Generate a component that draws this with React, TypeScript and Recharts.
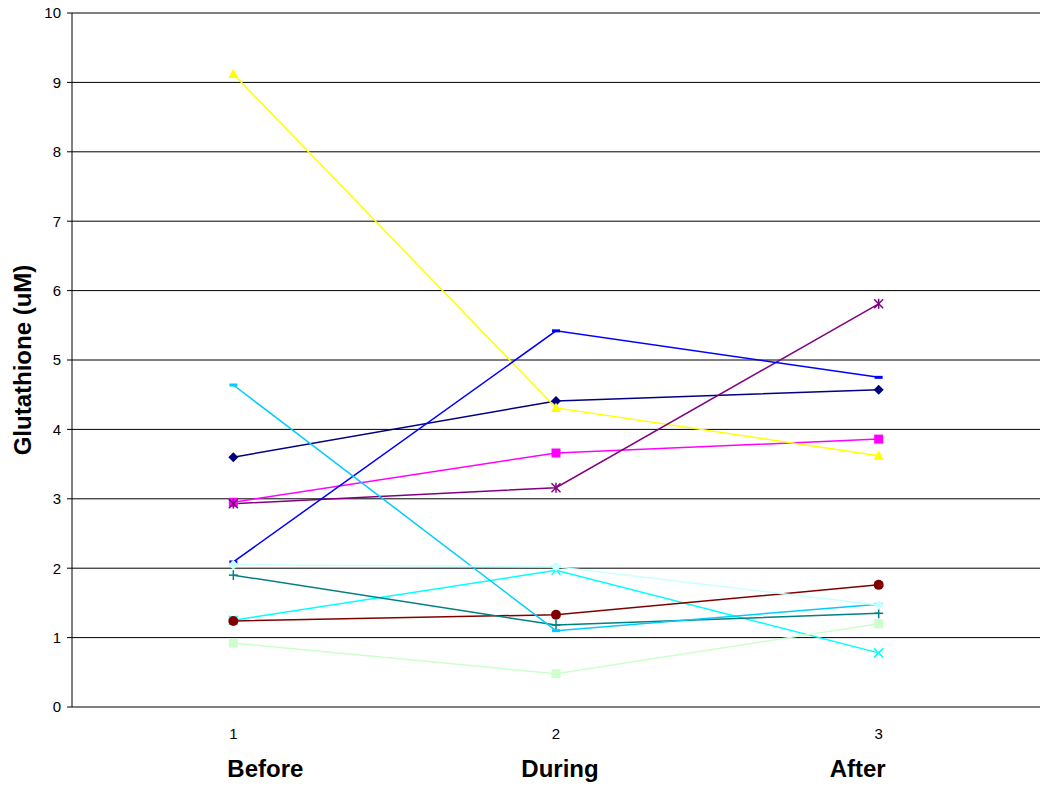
import React from "react";
import { LineChart, Line, XAxis, YAxis, CartesianGrid } from "recharts";

const phases = [1, 2, 3];
const phaseNames = ["Before", "During", "After"];
const yTicks = [0, 1, 2, 3, 4, 5, 6, 7, 8, 9, 10];
const bandEdges = [0.5, 1.5, 2.5, 3.5];

const s1 = [3.6, 4.41, 4.57];
const s2 = [2.95, 3.66, 3.86];
const s3 = [9.12, 4.31, 3.62];
const s4 = [1.25, 1.97, 0.78];
const s5 = [2.93, 3.16, 5.81];
const s6 = [1.24, 1.33, 1.76];
const s7 = [1.9, 1.18, 1.35];
const s8 = [2.09, 5.42, 4.75];
const s9 = [4.64, 1.1, 1.48];
const s10 = [2.05, 2.02, 1.47];
const s11 = [0.92, 0.48, 1.2];

const seriesList = [
  { key: "s1", values: s1, color: "#000080", marker: "diamond" },
  { key: "s2", values: s2, color: "#FF00FF", marker: "square" },
  { key: "s3", values: s3, color: "#FFFF00", marker: "triangle" },
  { key: "s4", values: s4, color: "#00FFFF", marker: "x" },
  { key: "s5", values: s5, color: "#800080", marker: "star" },
  { key: "s6", values: s6, color: "#800000", marker: "circle" },
  { key: "s7", values: s7, color: "#008080", marker: "plus" },
  { key: "s8", values: s8, color: "#0000FF", marker: "dash" },
  { key: "s9", values: s9, color: "#00CCFF", marker: "dash" },
  { key: "s10", values: s10, color: "#CCFFFF", marker: "diamond" },
  { key: "s11", values: s11, color: "#CCFFCC", marker: "square" },
];

const data = phases.map((p, i) => {
  const row: any = { phase: p };
  seriesList.forEach((s) => (row[s.key] = s.values[i]));
  return row;
});

const FONT = "'Liberation Sans', Arial, sans-serif";
// the phase names sit a little off the category centres in the original
const nameShift = [32, 4, -21];

function makeDot(marker: string, color: string) {
  return (props: any) => {
    const { cx, cy, index } = props;
    const k = `d-${marker}-${color}-${index}`;
    if (cx == null || cy == null) return <g key={k} />;
    switch (marker) {
      case "diamond":
        return (
          <polygon key={k} points={`${cx},${cy - 5} ${cx + 5},${cy} ${cx},${cy + 5} ${cx - 5},${cy}`} fill={color} />
        );
      case "square":
        return <rect key={k} x={cx - 4.5} y={cy - 4.5} width={9} height={9} fill={color} />;
      case "triangle":
        return <polygon key={k} points={`${cx},${cy - 5.5} ${cx + 5},${cy + 4} ${cx - 5},${cy + 4}`} fill={color} />;
      case "x":
        return (
          <g key={k} stroke={color} strokeWidth={1.5}>
            <line x1={cx - 4.5} y1={cy - 4.5} x2={cx + 4.5} y2={cy + 4.5} />
            <line x1={cx - 4.5} y1={cy + 4.5} x2={cx + 4.5} y2={cy - 4.5} />
          </g>
        );
      case "star":
        return (
          <g key={k} stroke={color} strokeWidth={1.5}>
            <line x1={cx - 4.5} y1={cy - 4.5} x2={cx + 4.5} y2={cy + 4.5} />
            <line x1={cx - 4.5} y1={cy + 4.5} x2={cx + 4.5} y2={cy - 4.5} />
            <line x1={cx} y1={cy - 5} x2={cx} y2={cy + 5} />
          </g>
        );
      case "circle":
        return <circle key={k} cx={cx} cy={cy} r={5} fill={color} />;
      case "plus":
        return (
          <g key={k} stroke={color} strokeWidth={1.5}>
            <line x1={cx - 4.5} y1={cy} x2={cx + 4.5} y2={cy} />
            <line x1={cx} y1={cy - 5} x2={cx} y2={cy + 5} />
          </g>
        );
      case "dash":
      default:
        return <rect key={k} x={cx - 4} y={cy - 1.5} width={8} height={3} fill={color} />;
    }
  };
}

function PhaseTick(props: any) {
  const { x, y, payload, index } = props;
  return (
    <g>
      <text x={x} y={y + 24} textAnchor="middle" fontFamily={FONT} fontSize={15} fill="#000">
        {payload.value}
      </text>
      <text
        x={x + nameShift[index]}
        y={y + 62}
        textAnchor="middle"
        fontFamily={FONT}
        fontSize={24}
        fontWeight="bold"
        fill="#000"
      >
        {phaseNames[index]}
      </text>
    </g>
  );
}

export default function App() {
  return (
    <div style={{ position: "absolute", left: 0, top: 0, background: "#fff" }}>
      <LineChart width={1045} height={790} data={data} margin={{ top: 13, right: 5, bottom: 0, left: 0 }}>
        <CartesianGrid vertical={false} stroke="#000" strokeWidth={1} yAxisId="left" xAxisId="edges" />
        <XAxis
          xAxisId="edges"
          dataKey="phase"
          type="number"
          domain={[0.5, 3.5]}
          ticks={bandEdges}
          tick={false}
          tickSize={5}
          axisLine={{ stroke: "#000" }}
          tickLine={{ stroke: "#000" }}
          height={0}
        />
        <XAxis
          xAxisId="main"
          dataKey="phase"
          type="number"
          domain={[0.5, 3.5]}
          ticks={phases}
          tickLine={false}
          axisLine={false}
          tick={<PhaseTick />}
          height={83}
          interval={0}
        />
        <YAxis
          yAxisId="left"
          domain={[0, 10]}
          ticks={yTicks}
          width={72}
          tickSize={5}
          tickMargin={6}
          axisLine={{ stroke: "#000" }}
          tickLine={{ stroke: "#000" }}
          tick={{ fontFamily: FONT, fontSize: 15, fill: "#000" }}
          label={{
            value: "Glutathione (uM)",
            angle: -90,
            position: "center",
            dx: -14,
            style: { fontFamily: FONT, fontSize: 24, fontWeight: "bold", fill: "#000" },
          }}
        />
        <YAxis
          yAxisId="right"
          orientation="right"
          domain={[0, 10]}
          width={0}
          tick={false}
          tickLine={false}
          axisLine={{ stroke: "#808080" }}
        />
        {seriesList.map((s) => (
          <Line
            key={s.key}
            xAxisId="main"
            yAxisId="left"
            dataKey={s.key}
            stroke={s.color}
            strokeWidth={1.5}
            dot={makeDot(s.marker, s.color)}
            activeDot={false}
            isAnimationActive={false}
          />
        ))}
      </LineChart>
    </div>
  );
}
